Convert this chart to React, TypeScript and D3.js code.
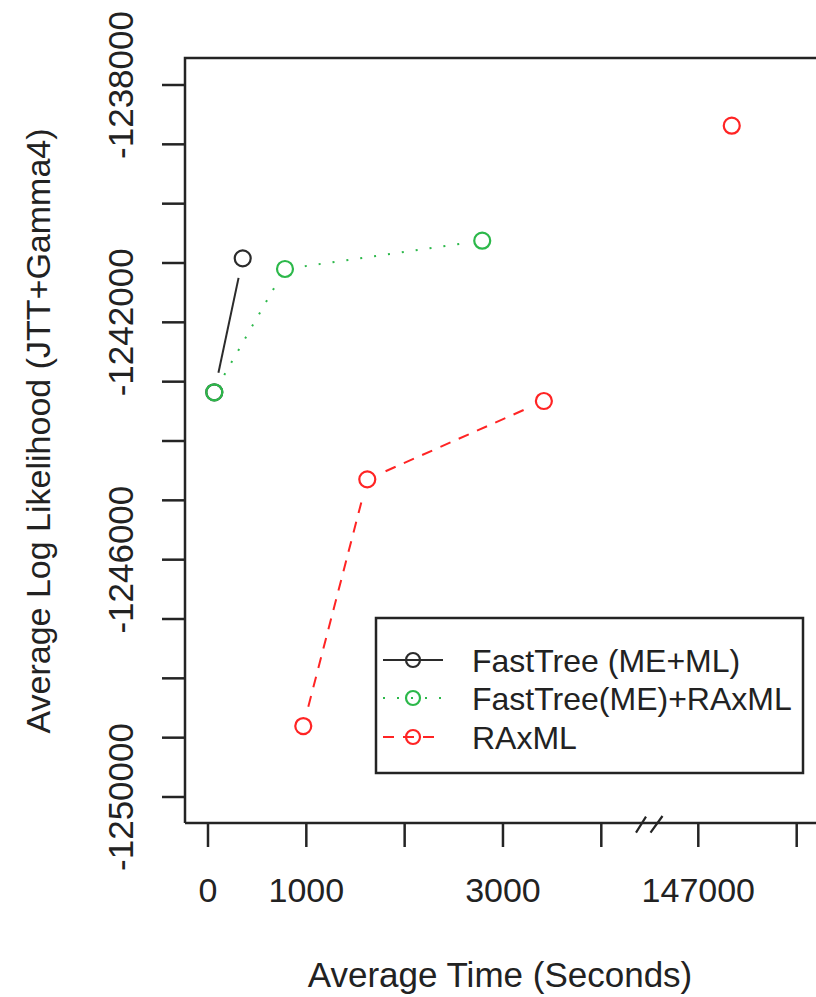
import React from 'react';
import * as d3 from 'd3';

// average time (s) and average log likelihood
const fastTreeTime = [64, 353];
const fastTreeLL = [-1243179, -1240921];
const comboTime = [64, 783, 2789];
const comboLL = [-1243179, -1241101, -1240624];
const raxmlTime = [969, 1620, 3416, 147340];
const raxmlLL = [-1248804, -1244646, -1243326, -1238686];

const xTicks = [0, 1000, 2000, 3000, 4000, 147000, 148000];
const xLabels = [0, 1000, 3000, 147000];
const yTicks = d3.range(-1250000, -1237999, 1000);
const yLabels = [-1238000, -1242000, -1246000, -1250000];

const W = 816;
const H = 997;
const FONT = '"Liberation Sans", Arial, Helvetica, sans-serif';
const AXIS = '#242424';

// plot box
const left = 185;
const right = 820;
const top = 58;
const bottom = 823;

// broken axis: 0..4000 then jump to 147000..
const x = d3.scaleLinear()
  .domain([0, 4000, 147000, 148000])
  .range([208, 601.3, 698.3, 796.7]);
const y = d3.scaleLinear()
  .domain([-1250000, -1238000])
  .range([797, 85]);

const series = [
  { name: 'FastTree (ME+ML)', time: fastTreeTime, ll: fastTreeLL, color: '#2b2b2b', dash: null, connect: 2 },
  { name: 'FastTree(ME)+RAxML', time: comboTime, ll: comboLL, color: '#2cb84a', dash: '2 12', connect: 3 },
  { name: 'RAxML', time: raxmlTime, ll: raxmlLL, color: '#ff2424', dash: '11 9', connect: 3 },
];

const GAP = 20;

function segments(pts: [number, number][], n: number) {
  const out: string[] = [];
  for (let i = 0; i < n - 1; i++) {
    const [x1, y1] = pts[i];
    const [x2, y2] = pts[i + 1];
    const len = Math.hypot(x2 - x1, y2 - y1);
    if (len <= 2 * GAP) continue;
    const ux = (x2 - x1) / len;
    const uy = (y2 - y1) / len;
    out.push(`M${x1 + ux * GAP},${y1 + uy * GAP}L${x2 - ux * GAP},${y2 - uy * GAP}`);
  }
  return out.join('');
}

export default function App() {
  const legendRows = [660, 698, 737];
  return (
    <svg width={W} height={H} style={{ position: 'absolute', left: 0, top: 0, background: '#fff' }}
      fontFamily={FONT}>
      <rect width={W} height={H} fill="#fff" />

      {/* box */}
      <path d={`M${left},${bottom}V${top}H${right}`} fill="none" stroke={AXIS} strokeWidth={2.5} />
      <path d={`M${left},${bottom}H${right}`} fill="none" stroke={AXIS} strokeWidth={2.5} />

      {/* y axis */}
      {yTicks.map(t => (
        <line key={t} x1={left} x2={162} y1={y(t)} y2={y(t)} stroke={AXIS} strokeWidth={2.5} />
      ))}
      {yLabels.map(t => (
        <text key={t} transform={`translate(133,${y(t)}) rotate(-90)`} textAnchor="middle"
          fontSize={35} fill="#222">{String(t)}</text>
      ))}
      <text transform="translate(50,431) rotate(-90)" textAnchor="middle" fontSize={34} fill="#222">
        Average Log Likelihood (JTT+Gamma4)
      </text>

      {/* x axis */}
      {xTicks.map(t => (
        <line key={t} x1={x(t)} x2={x(t)} y1={bottom} y2={847} stroke={AXIS} strokeWidth={2.5} />
      ))}
      {xLabels.map(t => (
        <text key={t} x={x(t)} y={902} textAnchor="middle" fontSize={34} fill="#222">{String(t)}</text>
      ))}
      <path d="M636,832.7L646,816.7M650.5,832.7L662.5,816" stroke={AXIS} strokeWidth={2.2} fill="none" />
      <text x={500} y={987} textAnchor="middle" fontSize={35} fill="#222">Average Time (Seconds)</text>

      {/* data */}
      {series.map(s => {
        const pts = s.time.map((t, i) => [x(t), y(s.ll[i])] as [number, number]);
        return (
          <g key={s.name}>
            <path d={segments(pts, s.connect)} fill="none" stroke={s.color} strokeWidth={2}
              strokeDasharray={s.dash ?? undefined} />
            {pts.map((p, i) => (
              <circle key={i} cx={p[0]} cy={p[1]} r={8} fill="none" stroke={s.color} strokeWidth={2.2} />
            ))}
          </g>
        );
      })}

      {/* legend */}
      <rect x={376} y={618} width={427} height={155} fill="#fff" stroke={AXIS} strokeWidth={2.5} />
      {series.map((s, i) => (
        <g key={s.name}>
          <line x1={383} x2={443} y1={legendRows[i]} y2={legendRows[i]} stroke={s.color} strokeWidth={2.2}
            strokeDasharray={s.dash ?? undefined} />
          <circle cx={413} cy={legendRows[i]} r={7} fill="none" stroke={s.color} strokeWidth={2.2} />
          <text x={472} y={legendRows[i] + 11.5} fontSize={32} fill="#222">{s.name}</text>
        </g>
      ))}
    </svg>
  );
}
